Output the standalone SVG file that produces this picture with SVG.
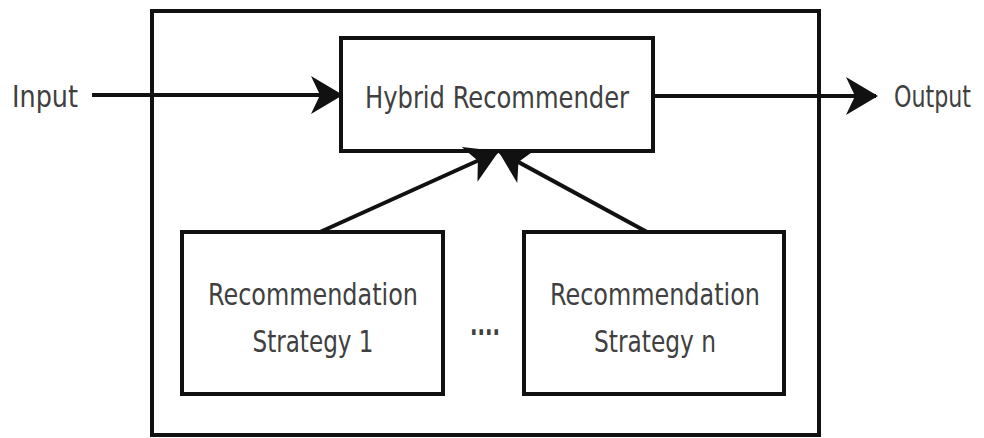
<svg xmlns="http://www.w3.org/2000/svg" width="984" height="438" viewBox="0 0 984 438">
  <style>
    .box { fill: #fff; stroke: #111; stroke-width: 4; }
    .lbl { font-family: "DejaVu Sans Condensed", "DejaVu Sans", sans-serif; font-size: 30px; fill: #404040; }
    .edge { stroke: #111; stroke-width: 4; fill: none; }
  </style>
  <defs>
    <marker id="head" viewBox="0 0 32 38" refX="30" refY="19" markerWidth="32" markerHeight="38" markerUnits="userSpaceOnUse" orient="auto">
      <path d="M0,0 L32,19 L0,38 L9,19 Z" fill="#111"/>
    </marker>
  </defs>
  <rect width="984" height="438" fill="#fff"/>

  <g id="container">
    <rect class="box" x="152" y="11" width="667" height="424" fill="none"/>
  </g>

  <g id="hybrid">
    <rect class="box" x="341" y="38" width="312" height="113"/>
    <text class="lbl" x="497" y="108" text-anchor="middle" textLength="264" lengthAdjust="spacingAndGlyphs">Hybrid Recommender</text>
  </g>

  <g id="strategy1">
    <rect class="box" x="182" y="232" width="261" height="162"/>
    <text class="lbl" x="313" y="305" text-anchor="middle" textLength="210" lengthAdjust="spacingAndGlyphs">Recommendation</text>
    <text class="lbl" x="313" y="352" text-anchor="middle" textLength="121" lengthAdjust="spacingAndGlyphs">Strategy 1</text>
  </g>

  <g id="strategyn">
    <rect class="box" x="524" y="232" width="260" height="162"/>
    <text class="lbl" x="655" y="305" text-anchor="middle" textLength="210" lengthAdjust="spacingAndGlyphs">Recommendation</text>
    <text class="lbl" x="655" y="352" text-anchor="middle" textLength="122" lengthAdjust="spacingAndGlyphs">Strategy n</text>
  </g>

  <g id="ellipsis">
    <text class="lbl" x="485" y="335" text-anchor="middle" textLength="30" lengthAdjust="spacingAndGlyphs" font-weight="bold">....</text>
  </g>

  <g id="input">
    <text class="lbl" x="12" y="107" textLength="66" lengthAdjust="spacingAndGlyphs">Input</text>
  </g>

  <g id="output">
    <text class="lbl" x="894" y="107" font-size="27" textLength="77" lengthAdjust="spacingAndGlyphs">Output</text>
  </g>

  <g id="connectors">
    <line class="edge" x1="92" y1="95" x2="341" y2="95" marker-end="url(#head)"/>
    <line class="edge" x1="653" y1="96" x2="876" y2="96" marker-end="url(#head)"/>
    <line class="edge" x1="320" y1="232" x2="497" y2="152" marker-end="url(#head)"/>
    <line class="edge" x1="647" y1="232" x2="500" y2="152" marker-end="url(#head)"/>
  </g>
</svg>
